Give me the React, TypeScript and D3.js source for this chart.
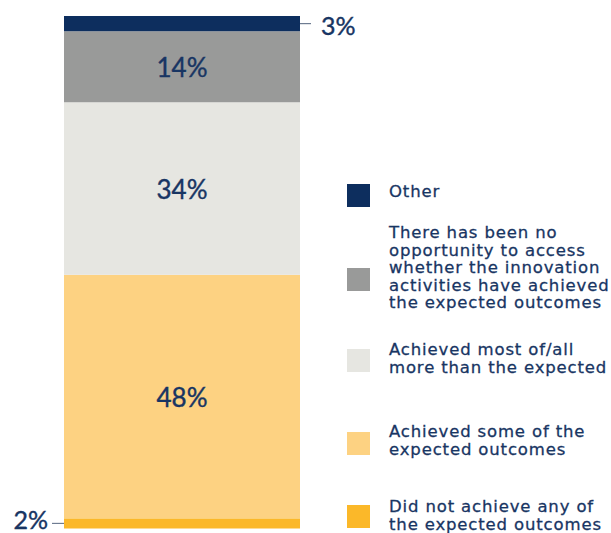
import { useEffect, useRef } from 'react';
import * as d3 from 'd3';

// bottom -> top
const categories = [
  'Did not achieve any of the expected outcomes',
  'Achieved some of the expected outcomes',
  'Achieved most of/all more than the expected',
  'There has been no opportunity to access whether the innovation activities have achieved the expected outcomes',
  'Other',
];
const values = [2, 48, 34, 14, 3];
const colors = ['#FBB829', '#FDD282', '#E6E6E1', '#999A99', '#0D2E5E'];

// legend text, wrapped as in the picture (top -> bottom)
const legendLines = [
  ['Other'],
  [
    'There has been no',
    'opportunity to access',
    'whether the innovation',
    'activities have achieved',
    'the expected outcomes',
  ],
  ['Achieved most of/all', 'more than the expected'],
  ['Achieved some of the', 'expected outcomes'],
  ['Did not achieve any of', 'the expected outcomes'],
];

const W = 611;
const H = 533;
const NAVY = '#183563';

export default function App() {
  const svgRef = useRef<SVGSVGElement>(null);

  useEffect(() => {
    if (!svgRef.current) return;
    const svg = d3.select(svgRef.current);
    svg.selectAll('*').remove();

    const total = d3.sum(values);
    const y = d3.scaleLinear().domain([0, total]).range([528.5, 16]);
    const x = d3.scaleBand().domain(['bar']).range([64, 300]).padding(0);

    const cum = d3.cumsum(values);
    const segs = values.map((v, i) => ({
      v,
      i,
      name: categories[i],
      y0: cum[i] - v,
      y1: cum[i],
    }));

    const g = svg.append('g');

    // Stacked bar
    g.selectAll('rect.seg')
      .data(segs)
      .join('rect')
      .attr('class', 'seg')
      .attr('x', x('bar')!)
      .attr('width', x.bandwidth())
      .attr('y', (d) => y(d.y1))
      .attr('height', (d) => y(d.y0) - y(d.y1))
      .attr('fill', (d) => colors[d.i]);

    const numFont = 'Lato, "DejaVu Sans", sans-serif';

    // Inner labels for the big segments
    segs
      .filter((d) => d.v >= 10)
      .forEach((d) => {
        g.append('text')
          .attr('x', x('bar')! + x.bandwidth() / 2)
          .attr('y', (y(d.y0) + y(d.y1)) / 2)
          .attr('text-anchor', 'middle')
          .attr('dominant-baseline', 'central')
          .attr('fill', NAVY)
          .attr('stroke', NAVY)
          .attr('stroke-width', 0.4)
          .attr('font-family', numFont)
          .attr('font-size', 26)
          .text(`${d.v}%`);
      });

    // Outside labels with leader lines
    const top = segs[segs.length - 1];
    const topY = (y(top.y0) + y(top.y1)) / 2;
    g.append('line')
      .attr('x1', 300).attr('x2', 311)
      .attr('y1', topY).attr('y2', topY)
      .attr('stroke', '#6E7C92').attr('stroke-width', 1.2);
    g.append('text')
      .attr('x', 321)
      .attr('y', topY + 11)
      .attr('fill', NAVY)
      .attr('stroke', NAVY)
      .attr('stroke-width', 0.4)
      .attr('font-family', numFont)
      .attr('font-size', 25)
      .text(`${top.v}%`);

    const bot = segs[0];
    const botY = (y(bot.y0) + y(bot.y1)) / 2;
    g.append('line')
      .attr('x1', 52).attr('x2', 64)
      .attr('y1', botY).attr('y2', botY)
      .attr('stroke', '#6E7C92').attr('stroke-width', 1.2);
    g.append('text')
      .attr('x', 48)
      .attr('y', botY + 6)
      .attr('text-anchor', 'end')
      .attr('fill', NAVY)
      .attr('stroke', NAVY)
      .attr('stroke-width', 0.4)
      .attr('font-family', numFont)
      .attr('font-size', 25)
      .text(`${bot.v}%`);

    // Legend (top -> bottom)
    const squareTops = [184, 268, 349, 432, 505];
    const firstBaselines = [197, 238, 355, 437, 512];
    const lineH = 17.6;
    const legendColors = colors.slice().reverse();

    legendLines.forEach((lines, k) => {
      g.append('rect')
        .attr('x', 347)
        .attr('y', squareTops[k])
        .attr('width', 23)
        .attr('height', 23)
        .attr('fill', legendColors[k]);
      const t = g.append('text')
        .attr('fill', NAVY)
        .attr('stroke', NAVY)
        .attr('stroke-width', 0.3)
        .attr('font-family', '"DejaVu Sans", sans-serif')
        .attr('font-size', 16.5)
        .attr('letter-spacing', 0.85);
      lines.forEach((ln, j) => {
        t.append('tspan')
          .attr('x', 389)
          .attr('y', firstBaselines[k] + j * lineH)
          .text(ln);
      });
    });
  }, []);

  return (
    <svg
      ref={svgRef}
      width={W}
      height={H}
      style={{ position: 'absolute', left: 0, top: 0, background: '#fff' }}
    />
  );
}
